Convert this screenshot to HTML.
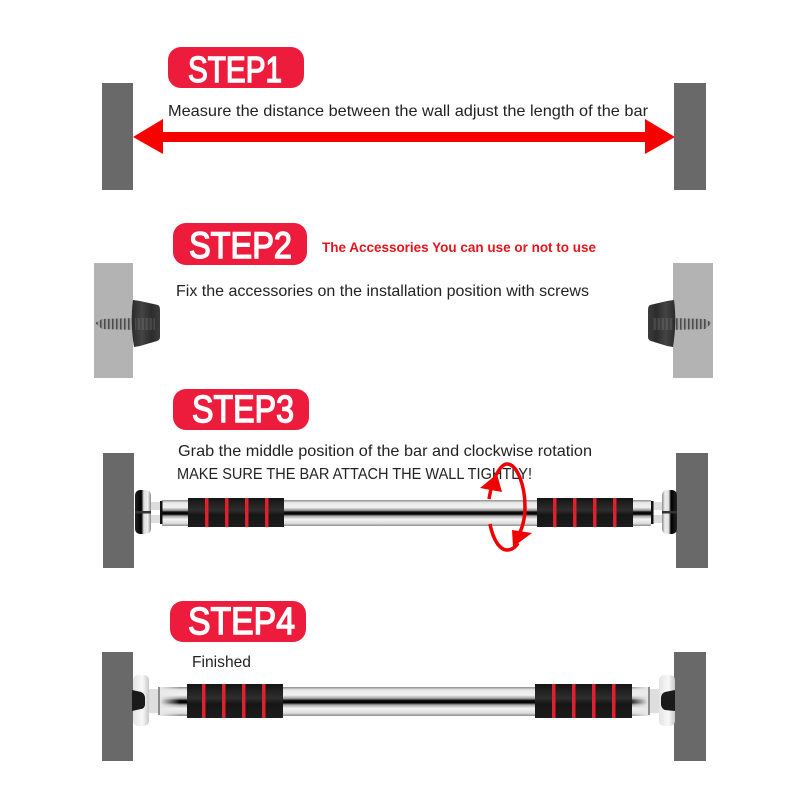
<!DOCTYPE html>
<html>
<head>
<meta charset="utf-8">
<style>
html,body{margin:0;padding:0;background:#fff;width:800px;height:800px;overflow:hidden}
svg{display:block}
text{font-family:"Liberation Sans",sans-serif}
.b{fill:#fff;stroke:#fff;stroke-width:1.4}
.t{font-size:16.1px;fill:#222}
</style>
</head>
<body>
<svg width="800" height="800" viewBox="0 0 800 800" xmlns="http://www.w3.org/2000/svg">
<defs>
<linearGradient id="steel" x1="0" y1="0" x2="0" y2="1">
<stop offset="0" stop-color="#8a8a8a"/><stop offset=".1" stop-color="#e8e8e8"/><stop offset=".28" stop-color="#f2f2f2"/><stop offset=".4" stop-color="#9a9a9a"/><stop offset=".46" stop-color="#111"/><stop offset=".54" stop-color="#000"/><stop offset=".62" stop-color="#aaa"/><stop offset=".74" stop-color="#f4f4f4"/><stop offset=".9" stop-color="#dcdcdc"/><stop offset="1" stop-color="#8a8a8a"/>
</linearGradient>
<linearGradient id="fadeL" x1="0" y1="0" x2="1" y2="0">
<stop offset="0" stop-color="#e8e8e8"/><stop offset="1" stop-color="#e8e8e8" stop-opacity="0"/>
</linearGradient>
<linearGradient id="fadeR" x1="1" y1="0" x2="0" y2="0">
<stop offset="0" stop-color="#e8e8e8"/><stop offset="1" stop-color="#e8e8e8" stop-opacity="0"/>
</linearGradient>
<linearGradient id="grip" x1="0" y1="0" x2="0" y2="1">
<stop offset="0" stop-color="#141414"/><stop offset=".42" stop-color="#2e2e2e"/><stop offset=".58" stop-color="#161616"/><stop offset="1" stop-color="#1c1c1c"/>
</linearGradient>
<linearGradient id="capL" x1="0" y1="0" x2="1" y2="0">
<stop offset="0" stop-color="#2a2a2a"/><stop offset=".35" stop-color="#444"/><stop offset=".7" stop-color="#2c2c2c"/><stop offset="1" stop-color="#3c3c3c"/>
</linearGradient>
<linearGradient id="capR" x1="1" y1="0" x2="0" y2="0">
<stop offset="0" stop-color="#2a2a2a"/><stop offset=".35" stop-color="#444"/><stop offset=".7" stop-color="#2c2c2c"/><stop offset="1" stop-color="#3c3c3c"/>
</linearGradient>
<linearGradient id="plate" x1="0" y1="0" x2="1" y2="0">
<stop offset="0" stop-color="#222"/><stop offset=".4" stop-color="#000"/><stop offset=".55" stop-color="#ddd"/><stop offset=".8" stop-color="#eee"/><stop offset="1" stop-color="#888"/>
</linearGradient>
<linearGradient id="plateR" x1="1" y1="0" x2="0" y2="0">
<stop offset="0" stop-color="#222"/><stop offset=".4" stop-color="#000"/><stop offset=".55" stop-color="#ddd"/><stop offset=".8" stop-color="#eee"/><stop offset="1" stop-color="#888"/>
</linearGradient>
<linearGradient id="pale" x1="0" y1="0" x2="1" y2="0">
<stop offset="0" stop-color="#e4e4e4"/><stop offset=".6" stop-color="#f8f8f8"/><stop offset="1" stop-color="#c8c8c8"/>
</linearGradient>
<pattern id="thread" width="4" height="14" patternUnits="userSpaceOnUse">
<rect width="4" height="14" fill="#a0a0a0"/><rect width="1.6" height="14" fill="#4c4c4c"/>
</pattern>
</defs>

<!-- STEP 1 -->
<rect x="168" y="47" width="136" height="41" rx="13" fill="#ee1c3c"/>
<text class="b" x="188" y="82" font-size="36" textLength="94" lengthAdjust="spacingAndGlyphs">STEP1</text>
<rect x="102" y="83" width="31" height="107" fill="#696969"/>
<rect x="674" y="83" width="32" height="107" fill="#696969"/>
<polygon points="133,137 163,119 163,132 645,132 645,119 675,137 645,154 645,142 163,142 163,154" fill="#f60000"/>
<text class="t" x="168" y="116" textLength="480" lengthAdjust="spacingAndGlyphs">Measure the distance between the wall adjust the length of the bar</text>

<!-- STEP 2 -->
<rect x="173" y="223" width="134" height="42" rx="13" fill="#ee1c3c"/>
<text class="b" x="189" y="258" font-size="37" textLength="103" lengthAdjust="spacingAndGlyphs">STEP2</text>
<text x="322" y="252" font-size="13.4" font-weight="bold" fill="#e8141c" textLength="274" lengthAdjust="spacingAndGlyphs">The Accessories You can use or not to use</text>
<text class="t" x="176" y="296" textLength="413" lengthAdjust="spacingAndGlyphs">Fix the accessories on the installation position with screws</text>
<rect x="94" y="263" width="39" height="115" fill="#b3b3b3"/>
<rect x="673" y="263" width="40" height="115" fill="#b3b3b3"/>
<polygon points="95,323 102,319 135,318 135,330 102,329" fill="url(#thread)"/>
<path d="M133 300 L140 301 L158 305 Q160 306 160 310 L160 337 Q160 340 157 341 L140 346 L134 347 Q130 322 133 300Z" fill="url(#capL)"/>
<rect x="135" y="318" width="20" height="12" fill="url(#thread)" opacity=".22"/>
<polygon points="712,323 705,319 672,318 672,330 705,329" fill="url(#thread)"/>
<path d="M674 300 L667 301 L650 305 Q648 306 648 310 L648 337 Q648 340 651 341 L667 346 L673 347 Q677 322 674 300Z" fill="url(#capR)"/>
<rect x="653" y="318" width="20" height="12" fill="url(#thread)" opacity=".22"/>

<!-- STEP 3 -->
<rect x="173" y="389" width="136" height="41" rx="13" fill="#ee1c3c"/>
<text class="b" x="192" y="422" font-size="38" textLength="102" lengthAdjust="spacingAndGlyphs">STEP3</text>
<text class="t" x="178" y="456" textLength="414" lengthAdjust="spacingAndGlyphs">Grab the middle position of the bar and clockwise rotation</text>
<text class="t" x="177" y="479" textLength="355" lengthAdjust="spacingAndGlyphs" style="font-size:15.5px">MAKE SURE THE BAR ATTACH THE WALL TIGHTLY!</text>
<rect x="103" y="453" width="31" height="115" fill="#696969"/>
<rect x="676" y="453" width="32" height="115" fill="#696969"/>
<rect x="162" y="500" width="489" height="26" fill="url(#steel)"/>
<rect x="150" y="502" width="11" height="8" fill="#ddd"/><rect x="150" y="515" width="11" height="8" fill="#ddd"/>
<rect x="160" y="501" width="2.5" height="23" fill="#111"/>
<rect x="652" y="502" width="11" height="8" fill="#ddd"/><rect x="652" y="515" width="11" height="8" fill="#ddd"/>
<rect x="651" y="501" width="2.5" height="23" fill="#111"/>
<rect x="135" y="490" width="16" height="44" rx="5" fill="url(#plate)"/>
<rect x="135" y="511" width="16" height="2.5" fill="#333"/>
<rect x="662" y="490" width="15" height="44" rx="5" fill="url(#plateR)"/>
<rect x="662" y="511" width="15" height="2.5" fill="#333"/>
<g fill="url(#grip)">
<rect x="188" y="498" width="96" height="29"/>
<rect x="537" y="498" width="96" height="29"/>
</g>
<g fill="#e0202c">
<rect x="205" y="498" width="3.5" height="29"/><rect x="225" y="498" width="3.5" height="29"/><rect x="245" y="498" width="3.5" height="29"/><rect x="265" y="498" width="3.5" height="29"/>
<rect x="553" y="498" width="3.5" height="29"/><rect x="573" y="498" width="3.5" height="29"/><rect x="593" y="498" width="3.5" height="29"/><rect x="613" y="498" width="3.5" height="29"/>
</g>
<path d="M489 499 C492 480 500 464 507 464 C517 464 525 485 525 507 C525 520 522 529 518 536" fill="none" stroke="#f00000" stroke-width="3.5"/>
<path d="M490 524 C493 540 500 550 507 550 C511 550 515 548 518 543" fill="none" stroke="#f00000" stroke-width="3.5"/>
<polygon points="480,488 497,474 502,492" fill="#f00000"/>
<polygon points="512,530 532,533 513,547" fill="#f00000"/>

<!-- STEP 4 -->
<rect x="170" y="601" width="136" height="41" rx="13" fill="#ee1c3c"/>
<text class="b" x="188" y="634" font-size="38" textLength="107" lengthAdjust="spacingAndGlyphs">STEP4</text>
<text class="t" x="192" y="667" textLength="59" lengthAdjust="spacingAndGlyphs">Finished</text>
<rect x="102" y="652" width="31" height="109" fill="#696969"/>
<rect x="674" y="652" width="32" height="109" fill="#696969"/>
<rect x="160" y="687" width="488" height="29" fill="url(#steel)"/>
<rect x="160" y="687" width="20" height="29" fill="url(#fadeL)"/>
<rect x="628" y="687" width="20" height="29" fill="url(#fadeR)"/>
<rect x="149" y="689" width="10" height="24" fill="#dedede"/>
<rect x="158" y="687" width="2" height="28" fill="#8c8c8c"/>
<rect x="649" y="689" width="10" height="24" fill="#dedede"/>
<rect x="648" y="687" width="2" height="28" fill="#8c8c8c"/>
<rect x="133" y="675" width="16" height="51" rx="5" fill="url(#pale)"/>
<rect x="659" y="675" width="16" height="51" rx="5" fill="url(#pale)"/>
<path d="M132 690 L141 692 Q144 693 145 697 L145 705 Q144 709 141 709 L132 711Z" fill="#1a1a1a"/>
<path d="M675 690 L665 692 Q662 693 661 697 L661 705 Q662 709 665 710 L675 711Z" fill="#1a1a1a"/>
<g fill="url(#grip)">
<rect x="187" y="684" width="96" height="34"/>
<rect x="535" y="684" width="97" height="34"/>
</g>
<g fill="#e0202c">
<rect x="202" y="684" width="3.5" height="34"/><rect x="222" y="684" width="3.5" height="34"/><rect x="242" y="684" width="3.5" height="34"/><rect x="262" y="684" width="3.5" height="34"/>
<rect x="552" y="684" width="3.5" height="34"/><rect x="572" y="684" width="3.5" height="34"/><rect x="592" y="684" width="3.5" height="34"/><rect x="612" y="684" width="3.5" height="34"/>
</g>
</svg>
</body>
</html>
